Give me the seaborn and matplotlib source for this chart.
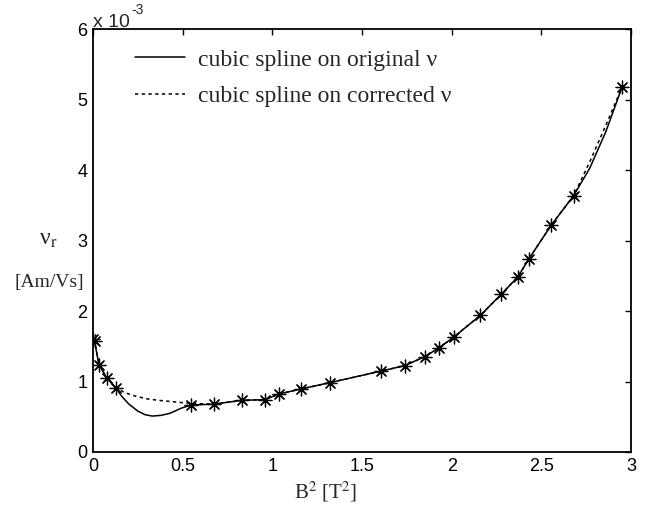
import matplotlib
matplotlib.use('Agg')
import matplotlib.pyplot as plt
import seaborn as sns

# measured points (B^2 in T^2, nu in 1e-3 Am/Vs)
b2_pts = [0.0, 0.01, 0.033, 0.076, 0.126, 0.544, 0.674, 0.832, 0.958, 1.038, 1.16, 1.32,
          1.608, 1.738, 1.85, 1.93, 2.011, 2.16, 2.277, 2.37, 2.43, 2.555, 2.68, 2.95]
nu_pts = [1.60, 1.58, 1.24, 1.055, 0.913, 0.665, 0.68, 0.734, 0.743, 0.824, 0.895, 0.984,
          1.15, 1.226, 1.354, 1.48, 1.63, 1.94, 2.24, 2.49, 2.74, 3.22, 3.64, 5.18]

# cubic spline on original nu
b2_orig = [0.0, 0.01, 0.033, 0.076, 0.126, 0.16, 0.2, 0.25, 0.29, 0.33, 0.38, 0.43, 0.49, 0.544,
           0.674, 0.832, 0.958, 1.038, 1.16, 1.32, 1.608, 1.738, 1.85, 1.93, 2.011, 2.16,
           2.277, 2.37, 2.43, 2.555, 2.68, 2.77, 2.86, 2.95]
nu_orig = [1.60, 1.55, 1.24, 1.055, 0.913, 0.79, 0.68, 0.58, 0.53, 0.51, 0.52, 0.55, 0.62, 0.665,
           0.68, 0.734, 0.743, 0.824, 0.895, 0.984, 1.15, 1.226, 1.354, 1.48, 1.63, 1.94,
           2.24, 2.49, 2.74, 3.22, 3.64, 4.03, 4.55, 5.18]

# cubic spline on corrected nu
b2_corr = [0.0, 0.01, 0.033, 0.076, 0.126, 0.18, 0.24, 0.3, 0.36, 0.42, 0.48, 0.544,
           0.674, 0.832, 0.958, 1.038, 1.16, 1.32, 1.608, 1.738, 1.85, 1.93, 2.011, 2.16,
           2.277, 2.37, 2.43, 2.555, 2.68, 2.77, 2.86, 2.95]
nu_corr = [1.60, 1.55, 1.24, 1.055, 0.913, 0.84, 0.79, 0.755, 0.735, 0.72, 0.705, 0.69,
           0.68, 0.734, 0.743, 0.824, 0.895, 0.984, 1.15, 1.226, 1.354, 1.48, 1.63, 1.94,
           2.24, 2.49, 2.74, 3.22, 3.64, 4.12, 4.64, 5.18]

x_ticks = [0, 0.5, 1, 1.5, 2, 2.5, 3]
x_tick_labels = ['0', '0.5', '1', '1.5', '2', '2.5', '3']
y_ticks = [0, 1, 2, 3, 4, 5, 6]

sns.set_style('white')
plt.rcParams['font.family'] = ['Liberation Sans', 'DejaVu Sans']
plt.rcParams['mathtext.fontset'] = 'stix'

fig = plt.figure(figsize=(6.57, 5.11), dpi=100)
ax = fig.add_axes([0.1416, 0.1155, 0.8188, 0.8268])

sns.lineplot(x=b2_orig, y=nu_orig, ax=ax, color='black', linewidth=1.1, sort=False,
             estimator=None, label='cubic spline on original ν')
sns.lineplot(x=b2_corr, y=nu_corr, ax=ax, color='black', linewidth=1.1, sort=False,
             estimator=None, linestyle=(0, (2.2, 2.2)), label='cubic spline on corrected ν')
sns.scatterplot(x=b2_pts, y=nu_pts, ax=ax, marker=(8, 2, 0), s=85, color='black',
                linewidth=0.9, zorder=3)

ax.set_xlim(0, 3)
ax.set_ylim(0, 6)
ax.set_xticks(x_ticks)
ax.set_xticklabels(x_tick_labels)
ax.set_yticks(y_ticks)
ax.tick_params(direction='in', length=4, width=1, top=True, right=True,
               labelsize=13, pad=4, colors='black')
for s in ax.spines.values():
    s.set_linewidth(1.3)
    s.set_color('black')

leg = ax.legend(loc='upper left', bbox_to_anchor=(0.039, 1.004), frameon=False,
                handlelength=2.1, handletextpad=0.55, labelspacing=0.65,
                prop={'family': 'Liberation Serif', 'size': 17})

# axis labels, MATLAB style
fig.text(326 / 657, 1 - 492 / 511, 'B$^2$ [T$^2$]', ha='center', va='center',
         family='Liberation Serif', fontsize=15)
fig.text(48 / 657, 1 - 240 / 511, r'ν$_{\mathrm{r}}$', ha='center', va='center',
         family='Liberation Serif', fontsize=17)
fig.text(49 / 657, 1 - 282 / 511, '[Am/Vs]', ha='center', va='center',
         family='Liberation Serif', fontsize=14)
fig.text(93 / 657, 1 - 27 / 511, 'x 10', ha='left', va='baseline', fontsize=14)
fig.text(131 / 657, 1 - 14 / 511, '-3', ha='left', va='baseline', fontsize=10)

fig.savefig('out.png', dpi=100)
